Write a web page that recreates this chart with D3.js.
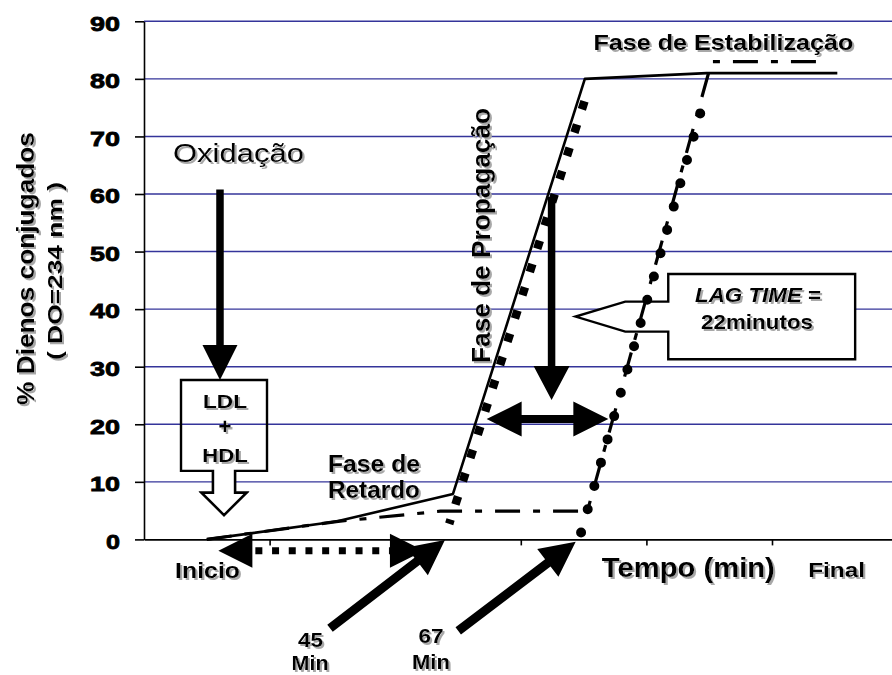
<!DOCTYPE html>
<html><head><meta charset="utf-8">
<script src="https://cdn.jsdelivr.net/npm/d3@7"></script>
<style>body{margin:0;background:#fff}svg{display:block}</style>
</head><body>
<svg id="c" width="892" height="675"></svg>
<script>
// ---------- data ----------
const yTicks = [0, 10, 20, 30, 40, 50, 60, 70, 80, 90];
const xTicks = [1, 2, 3, 4, 5, 6];
const xLabels = [
  {text: "Inicio", x: 0.506, size: 22, len: 65},
  {text: "Tempo (min)", x: 4.334, size: 28, len: 173},
  {text: "Final", x: 5.515, size: 21, len: 57}
];
// curves (x in axis units, y in % dienos conjugados)
const solidLine   = [[0.5, 0], [1.53, 3.1], [2.46, 7.9], [3.51, 80], [4.48, 81], [5.52, 81]];
const dashDotLine = [[0.5, 0], [1.53, 3.1], [2.36, 4.9], [3.53, 4.9], [4.52, 83], [5.45, 83]];
const squareLine  = [[2.43, 2.7], [3.52, 77]];
const circleLine  = [[3.48, 1.2], [4.43, 74.1]];
const lagMinutes  = ["45", "67"];
const lagTimeText = ["LAG TIME", " =", "22minutos"];

// ---------- layout ----------
const svg = d3.select("#c");
const x = d3.scaleLinear().domain([0, 6]).range([144, 897.6]);
const y = d3.scaleLinear().domain([0, 90]).range([539.4, 21.3]);
const FONT = "'Liberation Sans', Arial, Helvetica, sans-serif";

const defs = svg.append("defs");
const f = defs.append("filter").attr("id", "sh").attr("x", "-20%").attr("y", "-20%").attr("width", "140%").attr("height", "140%");
f.append("feOffset").attr("in", "SourceAlpha").attr("dx", 1.6).attr("dy", 1.6).attr("result", "o");
f.append("feFlood").attr("flood-color", "#a8a8a8");
f.append("feComposite").attr("in2", "o").attr("operator", "in").attr("result", "s");
const fm = f.append("feMerge");
fm.append("feMergeNode").attr("in", "s");
fm.append("feMergeNode").attr("in", "SourceGraphic");

// grid lines
svg.append("g").selectAll("line").data(yTicks.filter(d => d > 0)).join("line")
  .attr("x1", x(0)).attr("x2", 892).attr("y1", d => y(d)).attr("y2", d => y(d))
  .attr("stroke", "#34349a").attr("stroke-width", 1.4);

// axes
const xAxis = svg.append("g").attr("transform", `translate(0,${y(0)})`)
  .call(d3.axisBottom(x).tickValues(xTicks).tickSize(6).tickSizeOuter(0).tickFormat(""));
const yAxis = svg.append("g").attr("transform", `translate(${x(0)},0)`)
  .call(d3.axisLeft(y).tickValues(yTicks).tickSize(9).tickSizeOuter(0).tickPadding(15));
[xAxis, yAxis].forEach(g => {
  g.selectAll("path,line").attr("stroke", "#000").attr("stroke-width", 1.6);
});
yAxis.selectAll("text")
  .attr("font-family", FONT).attr("font-weight", "bold").attr("font-size", 21)
  .attr("fill", "#000").attr("stroke", "#000").attr("stroke-width", 0.8)
  .attr("dy", "0.42em")
  .attr("textLength", d => String(d).length > 1 ? 30 : 14)
  .attr("lengthAdjust", "spacingAndGlyphs");

// helpers
const line = d3.line().x(d => x(d[0])).y(d => y(d[1]));
function arrowPts(x1, y1, x2, y2, sw, hl, hw) {
  const dx = x2 - x1, dy = y2 - y1, L = Math.hypot(dx, dy);
  const ux = dx / L, uy = dy / L, nx = -uy, ny = ux;
  const bx = x2 - ux * hl, by = y2 - uy * hl;
  return [
    [x1 + nx * sw / 2, y1 + ny * sw / 2], [bx + nx * sw / 2, by + ny * sw / 2],
    [bx + nx * hw / 2, by + ny * hw / 2], [x2, y2],
    [bx - nx * hw / 2, by - ny * hw / 2], [bx - nx * sw / 2, by - ny * sw / 2],
    [x1 - nx * sw / 2, y1 - ny * sw / 2]
  ];
}
function doubleArrowPts(x1, x2, yy, sw, hl, hw) {
  return [[x1, yy], [x1 + hl, yy - hw / 2], [x1 + hl, yy - sw / 2], [x2 - hl, yy - sw / 2],
          [x2 - hl, yy - hw / 2], [x2, yy], [x2 - hl, yy + hw / 2], [x2 - hl, yy + sw / 2],
          [x1 + hl, yy + sw / 2], [x1 + hl, yy + hw / 2]];
}
const poly = p => "M" + p.map(q => q.join(",")).join("L") + "Z";

// LAG TIME callout (white fill, behind curves)
{
  const L = x(4.174), R = x(5.662), T = y(46.1), B = y(31.3);
  const tx = x(3.436), ty = y(38.7), kx = L - 43;
  const p = [[L, T], [R, T], [R, B], [L, B], [L, ty + 15], [kx, ty + 15], [tx, ty], [kx, ty - 15], [L, ty - 15]];
  svg.append("path").attr("d", poly(p)).attr("fill", "#fff").attr("stroke", "#000").attr("stroke-width", 2.4);
}

// LDL + HDL callout
{
  const cx = x(0.637), T = y(27.7), B = y(11.9), tip = y(4.24);
  const hb = tip - 22.3;
  const p = [[cx - 43, T], [cx + 43, T], [cx + 43, B], [cx + 11, B], [cx + 11, hb], [cx + 22.5, hb],
             [cx, tip], [cx - 22.5, hb], [cx - 11, hb], [cx - 11, B], [cx - 43, B]];
  svg.append("path").attr("d", poly(p)).attr("fill", "none").attr("stroke", "#000").attr("stroke-width", 2.4);
  const s = [[cx + 11, B + 1.2], [cx + 11, hb], [cx + 22.5, hb], [cx, tip], [cx - 22.5, hb], [cx - 11, hb], [cx - 11, B + 1.2]];
  svg.append("path").attr("d", "M" + s.map(q => q.join(",")).join("L")).attr("fill", "#fff").attr("stroke", "#000").attr("stroke-width", 2.4);
}

// curves
svg.append("path").datum(dashDotLine).attr("d", line).attr("fill", "none")
  .attr("stroke", "#000").attr("stroke-width", 3.2).attr("stroke-dasharray", "25,13,7,13");
svg.append("path").datum(circleLine).attr("d", line).attr("fill", "none")
  .attr("stroke", "#000").attr("stroke-width", 10).attr("stroke-linecap", "round")
  .attr("stroke-dasharray", "0,24.2");
svg.append("path").datum(solidLine).attr("d", line).attr("fill", "none")
  .attr("stroke", "#000").attr("stroke-width", 2.6).attr("stroke-linejoin", "round");
svg.append("path").datum(squareLine).attr("d", line).attr("fill", "none")
  .attr("stroke", "#000").attr("stroke-width", 8.5)
  .attr("stroke-dasharray", "8.5,15.9").attr("stroke-dashoffset", 4);

// arrows
const arrows = svg.append("g").attr("fill", "#000");
arrows.append("path").attr("d", poly(arrowPts(x(0.605), y(60.8), x(0.605), y(27.7), 7.5, 35, 35)));
arrows.append("path").attr("d", poly(arrowPts(x(3.245), y(59.5), x(3.245), y(24.2), 7.5, 34, 36)));
arrows.append("path").attr("d", poly(doubleArrowPts(x(2.728), x(3.697), y(20.9), 8, 35, 35)));
arrows.append("path").attr("d", poly(arrowPts(x(1.481), y(-15.44), x(2.396), y(-0.1), 9, 35, 35)));
arrows.append("path").attr("d", poly(arrowPts(x(2.502), y(-15.9), x(3.437), y(-0.4), 9, 35, 35)));
// dotted double arrow (Inicio -> 45 min)
{
  const yy = y(-1.96), x1 = x(0.592), x2 = x(2.229);
  arrows.append("path").attr("d", poly([[x1, yy], [x1 + 34, yy - 17], [x1 + 34, yy + 17]]));
  arrows.append("path").attr("d", poly([[x2, yy], [x2 - 34, yy - 17], [x2 - 34, yy + 17]]));
  arrows.append("line").attr("x1", x1 + 34).attr("x2", x2 - 34).attr("y1", yy).attr("y2", yy)
    .attr("stroke", "#000").attr("stroke-width", 7).attr("stroke-dasharray", "7,9.7").attr("stroke-dashoffset", -3);
}

// texts
const tg = svg.append("g").attr("filter", "url(#sh)").attr("font-family", FONT).attr("fill", "#000");
function txt(t, px, py, o) {
  const e = tg.append("text").attr("x", px).attr("y", py).text(t)
    .attr("font-size", o.size).attr("font-weight", o.weight || "bold")
    .attr("text-anchor", o.anchor || "middle");
  if (o.len) e.attr("textLength", o.len).attr("lengthAdjust", "spacingAndGlyphs");
  if (o.rot) e.attr("transform", `rotate(-90,${px},${py})`);
  if (o.italic) e.attr("font-style", "italic");
  return e;
}
txt("Oxidação", x(0.231), y(65.6), {size: 26, weight: "normal", anchor: "start", len: 131});
txt("LDL", x(0.645), y(22.84), {size: 19, len: 44});
txt("+", x(0.645), y(18.3), {size: 22});
txt("HDL", x(0.645), y(13.5), {size: 19, len: 45.6});
txt("Fase de", x(1.831), y(11.76), {size: 23, len: 92});
txt("Retardo", x(1.831), y(7.14), {size: 23, len: 92});
txt("Fase de Propagação", x(2.755), y(52.8), {size: 25, len: 255, rot: true});
txt("Fase de Estabilização", x(4.613), y(85.0), {size: 22, len: 260});
{
  const e = tg.append("text").attr("x", x(4.889)).attr("y", y(41.29)).attr("text-anchor", "middle")
    .attr("font-size", 21).attr("font-weight", "bold").attr("textLength", 126).attr("lengthAdjust", "spacingAndGlyphs");
  e.append("tspan").attr("font-style", "italic").text(lagTimeText[0]);
  e.append("tspan").text(lagTimeText[1]);
}
txt(lagTimeText[2], x(4.881), y(36.5), {size: 21, len: 112});
xLabels.forEach(d => txt(d.text, x(d.x), d.text === "Inicio" ? y(-6.76) : y(-6.48), {size: d.size, len: d.len}));
txt(lagMinutes[0], x(1.326), y(-18.64), {size: 20, len: 25});
txt("Min", x(1.322), y(-22.75), {size: 20, len: 37});
txt(lagMinutes[1], x(2.285), y(-18.0), {size: 20, len: 25});
txt("Min", x(2.285), y(-22.55), {size: 20, len: 38});
// y axis title
txt("% Dienos conjugados", 33.5, 268.5, {size: 24, len: 273, rot: true});
txt("( DO=234 nm )", 61.7, 271, {size: 21, len: 178, rot: true});
</script>
</body></html>
